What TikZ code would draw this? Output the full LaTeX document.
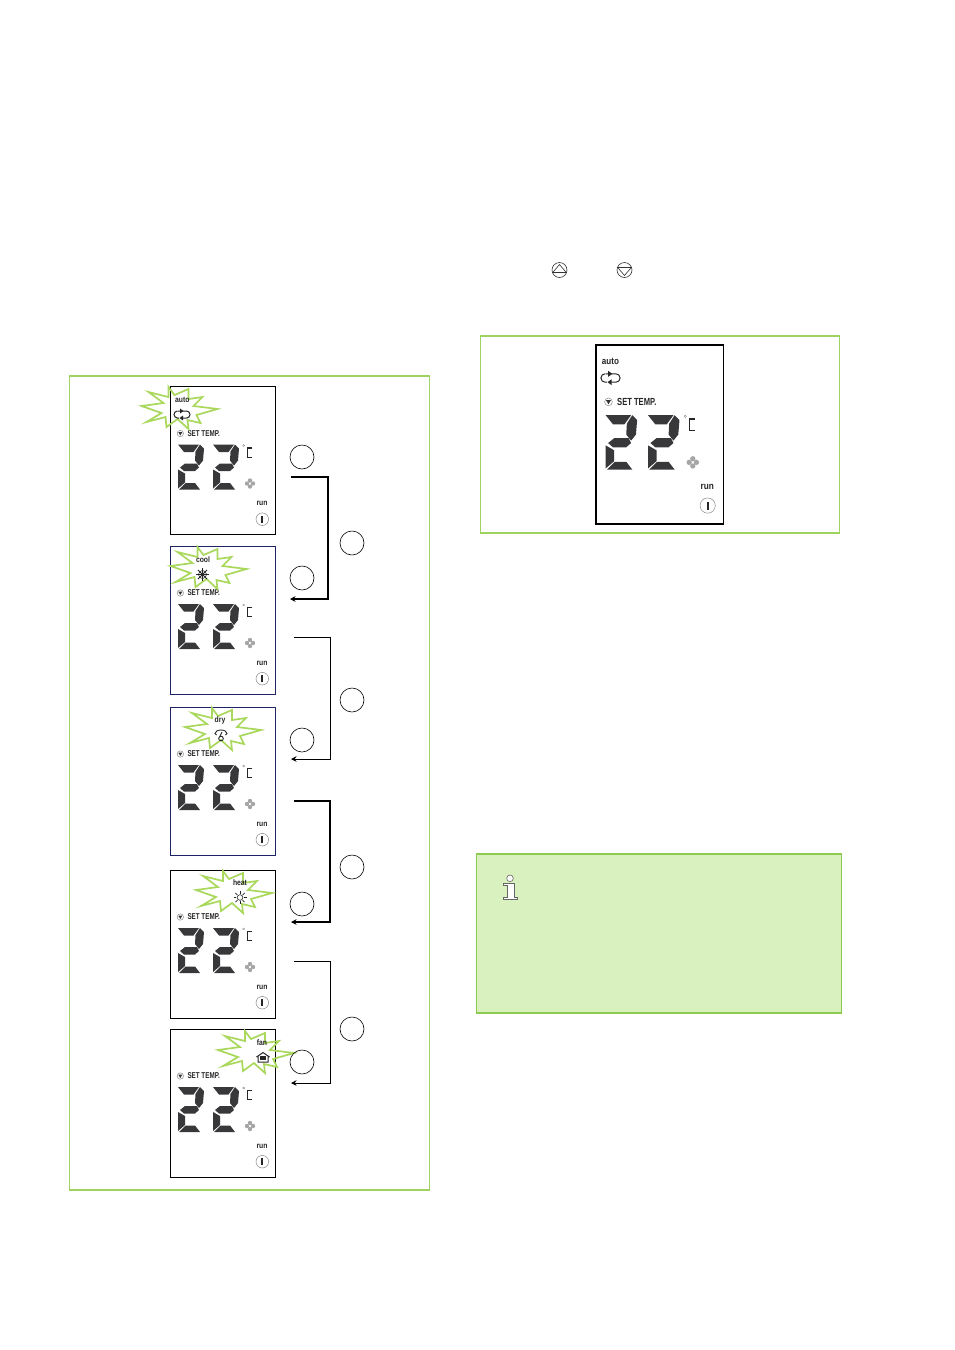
\documentclass[tikz,border=0pt]{standalone}
\usepackage{fontspec}
\setmainfont{Liberation Sans}
\usetikzlibrary{arrows.meta}
\definecolor{panelgreen}{HTML}{9FD35F}
\definecolor{burstgreen}{HTML}{A9D85C}
\definecolor{infofill}{HTML}{D9F1BE}
\definecolor{infoline}{HTML}{8CCB50}
\definecolor{navy}{HTML}{1E2266}
\definecolor{seg}{HTML}{38383A}
\definecolor{softgrey}{HTML}{8A8A8A}
\tikzset{
  every node/.style={outer sep=0pt},
  panelbox/.style={draw=panelgreen,line width=1.5pt},
  burstline/.style={draw=burstgreen,line width=1.7pt,line join=miter},
  numcircle/.style={draw=black,circle,line width=.6pt,minimum size=24pt,inner sep=0pt},
  flow/.style={draw=black,line width=1pt,-{Stealth[length=5.5pt,width=5.5pt]}},
  lcdtext/.style={font=\bfseries,text=black!85,inner sep=0pt,transform shape},
  iconline/.style={draw=black!85,line width=.9pt},
}
% #1 name, #2 x, #3 y, #4 scale, #5 frame colour, #6 frame width
\newcommand{\lcdpanel}[6]{%
\begin{scope}[shift={(#2,#3)},scale=#4]
  \node[draw=#5,line width=#6,fill=white,inner sep=0pt,anchor=north west,transform shape,
        minimum width=105.5pt,minimum height=148pt] (#1frame) at (0,0) {};
  \foreach \dx in {0,35}{
  \begin{scope}[shift={(\dx,0)}]
    \fill[seg] (8,58)--(29,58)--(23.5,65.5)--(14,65.5)--cycle;
    \fill[seg] (30,58)--(34,62)--(33,74)--(29,79)--(25,74)--(25.5,65)--cycle;
    \fill[seg] (10,81)--(15,77)--(27,77)--(29,81)--(25,84.5)--(14,84.5)--cycle;
    \fill[seg] (8,83)--(15,87)--(15,96)--(8,102)--cycle;
    \fill[seg] (9,103)--(15.5,96.5)--(25,96.5)--(30,103)--cycle;
  \end{scope}}
  \node[lcdtext,anchor=west] (#1set) at (17.5,47) {\fontsize{8.5}{8.5}\selectfont\scalebox{.74}[1]{SET TEMP.}};
  % signal icon
  \draw[softgrey,line width=.5pt] (10.3,47) circle (3.2);
  \fill[black!80] (8.3,45.6)--(12.3,45.6)--(10.3,49)--cycle;
  % degree and bracket
  \draw[softgrey,line width=.4pt] (73.7,59) circle (1);
  \draw[black!85,line width=1.4pt] (82,61.3)--(77.5,61.3)--(77.5,70.7)--(82,70.7);
  % fan
  \foreach \a in {0,90,180,270}
    \fill[black!35] (80,97)++(\a:3) circle (2.2);
  \fill[white] (80,97) circle (.6);
  \node[lcdtext,anchor=center] (#1run) at (92,117) {\fontsize{8}{8}\selectfont\scalebox{.85}[1]{run}};
  % button
  \node[draw=softgrey,fill=white,circle,line width=.5pt,minimum size=12.6pt,inner sep=0pt,transform shape] (#1btn) at (92.3,132.7) {};
  \fill[black!85] (91.4,129.4) rectangle (93.2,136);
\end{scope}}
% #1 name, #2 x, #3 y : burst centre
\newcommand{\burst}[3]{%
  \draw[burstline,shift={(#2,#3)},scale=1] (-11,-21) -- (-5,-13) -- (9,-19) -- (9,-9) -- (23,-11) -- (14,-2)
   -- (38,1) -- (17,7) -- (21,15) -- (8,12) -- (9,21) -- (-2,11) -- (-13,19) -- (-14,9)
   -- (-33,14) -- (-18,5) -- (-38,-2) -- (-16,-5) -- (-31,-16) -- (-11,-11) -- cycle;
}
\newcommand{\cycleicon}[3]{%
  \begin{scope}[shift={(#1,#2)},scale=#3]
    \draw[iconline,line width=1pt] (-4,-3.5)--(4.5,-3.5) arc (-90:90:3.5) -- (0,3.5);
    \draw[iconline,line width=1pt] (-3,3.5)--(-4.5,3.5) arc (90:270:3.5);
    \fill[black!85] (-2,-6)--(1.5,-3.5)--(-2,-1)--cycle;
    \fill[black!85] (1,1)--(-2.5,3.5)--(1,6)--cycle;
  \end{scope}}
\begin{document}
\begin{tikzpicture}[x=1pt,y=-1pt]
\useasboundingbox (0,0) rectangle (954,1350);
\fill[white] (0,0) rectangle (954,1350);
% top buttons
\node[draw=black!80,circle,line width=.6pt,minimum size=15pt,inner sep=0pt] (upkey) at (559.5,270) {};
\draw[black!80,line width=.6pt] (552.7,272.5)--(559.5,264.5)--(566.3,272.5)--cycle;
\node[draw=black!80,circle,line width=.6pt,minimum size=15pt,inner sep=0pt] (downkey) at (624.5,270) {};
\draw[black!80,line width=.6pt] (617.7,267.5)--(624.5,275.5)--(631.3,267.5)--cycle;
% panels
\node[panelbox,anchor=north west,minimum width=360pt,minimum height=814pt,inner sep=0pt] (leftpanel) at (69.5,376) {};
\node[panelbox,anchor=north west,minimum width=359pt,minimum height=197pt,inner sep=0pt] (rightpanel) at (480.5,336) {};
\node[draw=infoline,fill=infofill,line width=1.8pt,anchor=north west,minimum width=365pt,minimum height=159pt,inner sep=0pt] (infopanel) at (476.5,854) {};
% info icon
\draw[black!60,fill=white,line width=.6pt] (510,878.3) circle (3.3);
\draw[black!60,fill=white,line width=.6pt] (503.5,883.5)--(514.3,883.5)--(514.3,897)--(517,897)--(517,899)--(503.5,899)--(503.5,897)--(507.7,897)--(507.7,885.5)--(503.5,885.5)--cycle;
% displays
\lcdpanel{big}{596}{345}{1.21}{black}{1.3pt}
\lcdpanel{auto}{170}{386.5}{1}{black}{1pt}
\lcdpanel{cool}{170}{546}{1}{navy}{1pt}
\lcdpanel{dry}{170}{707}{1}{navy}{1pt}
\lcdpanel{heat}{170}{870}{1}{black}{.8pt}
\lcdpanel{fan}{170}{1029}{1}{black}{.8pt}
\burst{b1}{179.5}{408}
\burst{b2}{208.5}{568}
\burst{b3}{223}{729}
\burst{b4}{234}{892}
\burst{b5}{256}{1052}
\node[lcdtext] (autolabel) at (182.3,400) {\fontsize{8}{8}\selectfont\scalebox{.85}[1]{auto}};
\cycleicon{182}{414.5}{1}
\node[lcdtext] (biglabel) at (610.5,361) {\fontsize{9.5}{9.5}\selectfont\scalebox{.85}[1]{auto}};
\cycleicon{610.5}{378}{1.2}
\node[lcdtext] (coollabel) at (203,560) {\fontsize{8}{8}\selectfont\scalebox{.85}[1]{cool}};
% snowflake
\begin{scope}[shift={(202.5,574.5)}]
  \foreach \a in {0,45,...,135}
    \draw[black!85,line width=.9pt] (\a:-6.5)--(\a:6.5);
  \draw[black!85,line width=.6pt] (0,0) circle (4);
\end{scope}
\node[lcdtext] (drylabel) at (220,720.5) {\fontsize{8}{8}\selectfont\scalebox{.85}[1]{dry}};
% dry icon
\draw[iconline] (216.5,735) -- (215,733.5) arc (180:360:6 and 3.5) -- (225.5,735);
\draw[iconline] (222,732)--(219.8,736.5);
\draw[iconline] (221,738.5) circle (2.3);
\node[lcdtext] (heatlabel) at (240,883) {\fontsize{8}{8}\selectfont\scalebox{.85}[1]{heat}};
% sun
\begin{scope}[shift={(240,897.5)}]
  \draw[black!85,line width=.6pt] (0,0) circle (2.8);
  \foreach \a in {0,45,...,315}
    \draw[black!85,line width=.7pt] (\a:3.6)--(\a:6.5);
\end{scope}
\node[lcdtext] (fanlabel) at (262,1043) {\fontsize{8}{8}\selectfont\scalebox{.85}[1]{fan}};
% house
\draw[black!85,line width=1pt] (256.5,1057)--(263,1052.5)--(269.5,1057) (258,1056.5)--(258,1062)--(268,1062)--(268,1056.5);
\fill[black!85] (260,1056) rectangle (266,1060);
% numbered circles (empty)
\node[numcircle] (c1) at (302,457) {};
\node[numcircle] (c2) at (352,543) {};
\node[numcircle] (c3) at (302,578) {};
\node[numcircle] (c4) at (352,700) {};
\node[numcircle] (c5) at (302,740) {};
\node[numcircle] (c6) at (352,867) {};
\node[numcircle] (c7) at (302,904) {};
\node[numcircle] (c8) at (352,1029) {};
\node[numcircle] (c9) at (302,1062) {};
% connectors
\coordinate (a1s) at (291,477); \coordinate (a1e) at (290,599);
\coordinate (a2s) at (294,637); \coordinate (a2e) at (291,759);
\coordinate (a3s) at (294,801); \coordinate (a3e) at (291,922);
\coordinate (a4s) at (294,961); \coordinate (a4e) at (291,1083);
\draw[flow,line width=1.4pt] (a1s) -- ++(37,0) |- (a1e);
\draw[flow] (a2s) -- ++(36,0) |- (a2e);
\draw[flow,line width=1.3pt] (a3s) -- ++(36,0) |- (a3e);
\draw[flow] (a4s) -- ++(36,0) |- (a4e);
\end{tikzpicture}
\end{document}
